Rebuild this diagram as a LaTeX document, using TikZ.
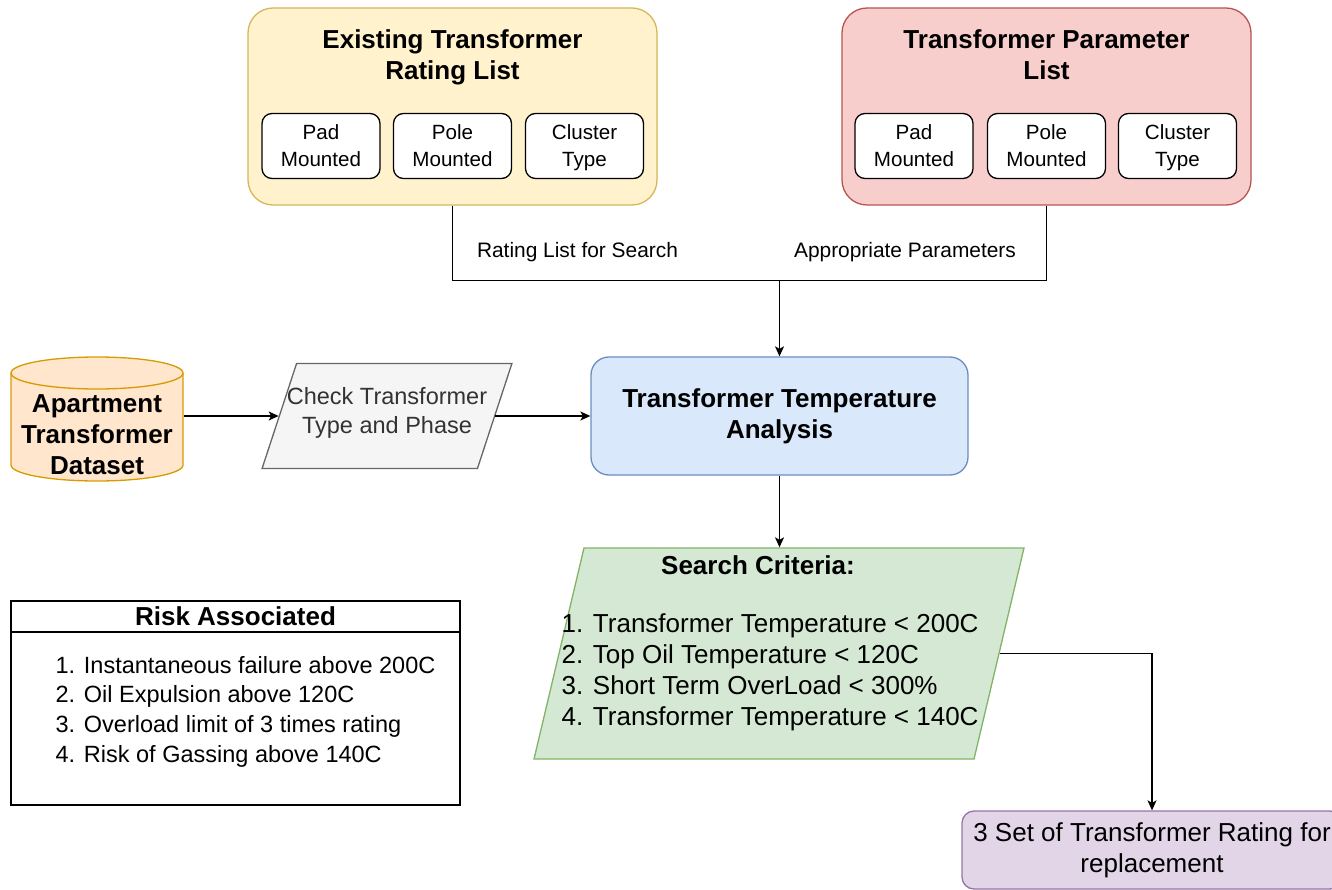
\documentclass[tikz,border=0pt]{standalone}
\usepackage{fontspec}
\setmainfont{Liberation Sans}
\usetikzlibrary{arrows.meta,shapes.geometric}

\definecolor{yfill}{HTML}{FFF2CC}\definecolor{ystroke}{HTML}{D6B656}
\definecolor{rfill}{HTML}{F8CECC}\definecolor{rstroke}{HTML}{B85450}
\definecolor{bfill}{HTML}{DAE8FC}\definecolor{bstroke}{HTML}{6C8EBF}
\definecolor{ofill}{HTML}{FFE6CC}\definecolor{ostroke}{HTML}{D79B00}
\definecolor{gfill}{HTML}{F5F5F5}\definecolor{gstroke}{HTML}{666666}\definecolor{gtext}{HTML}{333333}
\definecolor{grfill}{HTML}{D5E8D4}\definecolor{grstroke}{HTML}{82B366}
\definecolor{pfill}{HTML}{E1D5E7}\definecolor{pstroke}{HTML}{9673A6}

\newcommand\setfs[2]{\fontsize{#1pt}{#2pt}\selectfont}

\begin{document}
\begin{tikzpicture}[x=1pt,y=-1pt,line width=1.3pt,
  group/.style={rounded corners=25pt,minimum width=409pt,minimum height=197pt},
  subbox/.style={draw=black,fill=white,rounded corners=10pt,minimum width=118pt,
    minimum height=65pt,align=center,text depth=0pt,font=\setfs{20.6}{27}},
  title/.style={font=\bfseries\setfs{26}{31},align=center},
  lbl/.style={font=\setfs{20.9}{25}},
  arr/.style={-{Stealth[length=10pt,width=9pt,inset=2.5pt]}},
  para/.style={trapezium,trapezium stretches=true}]

\useasboundingbox (0,0) rectangle (1332,890);
\clip (0,0) rectangle (1332,890);

% existing rating list
\node[group,fill=yfill,draw=ystroke] (yl) at (452.5,106.5) {};
\node[title] (ylt) at (452.5,57) {Existing Transformer\\Rating List};
\node[subbox] (y1) at (321,146) {Pad\\Mounted};
\node[subbox] (y2) at (452.5,146) {Pole\\Mounted};
\node[subbox] (y3) at (584.5,146) {Cluster\\Type};

% parameter list
\node[group,fill=rfill,draw=rstroke] (rl) at (1046.5,106.5) {};
\node[title] (rlt) at (1046.5,55) {Transformer Parameter\\List};
\node[subbox] (r1) at (914,146) {Pad\\Mounted};
\node[subbox] (r2) at (1046.5,146) {Pole\\Mounted};
\node[subbox] (r3) at (1177.5,146) {Cluster\\Type};

% temperature analysis
\node[draw=bstroke,fill=bfill,rounded corners=18pt,minimum width=377pt,
  minimum height=118pt,title] (ta) at (779.5,416) {Transformer Temperature\\Analysis};

% dataset cylinder
\node[minimum width=172pt,minimum height=124pt] (ds) at (97,419) {};
\path[fill=ofill,draw=ostroke] (11,373) -- (11,465)
  arc[start angle=180,end angle=360,x radius=86pt,y radius=16pt] -- (183,373)
  arc[start angle=0,end angle=180,x radius=86pt,y radius=16pt] -- cycle;
\draw[ostroke] (11,373) arc[start angle=180,end angle=360,x radius=86pt,y radius=16pt];
\node[title] (dst) at (97,434.5) {Apartment\\Transformer\\Dataset};

% type check
\node[para,trapezium left angle=79.2,trapezium right angle=100.8,
  minimum width=250pt,minimum height=105pt,draw=gstroke,fill=gfill] (chk) at (387,416) {};
\node[text=gtext,font=\setfs{23.5}{28.2},align=center] (chkt) at (387,413) {Check Transformer\\Type and Phase};

% search criteria
\node[para,trapezium left angle=82.7,trapezium right angle=97.3,
  minimum width=490pt,minimum height=211pt,draw=grstroke,fill=grfill] (sc) at (779,653.5) {};
\node[title] (sct) at (758,565) {Search Criteria:};
\node[anchor=west,align=left,inner sep=0pt,font=\setfs{26}{31}] (sci) at (561,672.5)
  {1. Transformer Temperature < 200C\\2. Top Oil Temperature < 120C\\3. Short Term OverLoad < 300\%\\4. Transformer Temperature < 140C};

% result
\node[draw=pstroke,fill=pfill,rounded corners=12pt,minimum width=380pt,
  minimum height=78pt,align=center,font=\setfs{26}{31}] (out) at (1152,850)
  {3 Set of Transformer Rating for\\replacement};

% risk table
\node[draw=black,fill=white,outer sep=0pt,minimum width=449pt,minimum height=31pt,title] (rh) at (235.5,616.5) {Risk Associated};
\node[draw=black,fill=white,outer sep=0pt,minimum width=449pt,minimum height=173pt,anchor=north] (rb) at (rh.south) {};
\node[anchor=west,align=left,inner sep=0pt,font=\setfs{23.5}{29.7}] (ri) at (55,711.5)
  {1. Instantaneous failure above 200C\\2. Oil Expulsion above 120C\\3. Overload limit of 3 times rating\\4. Risk of Gassing above 140C};

% connectors
\coordinate (j) at (779.5,280.5);
\draw (yl.south) |- (j);
\draw (rl.south) |- (j);
\draw[arr] (j) -- (ta.north);
\node[lbl] (l1) at (577.5,252) {Rating List for Search};
\node[lbl] (l2) at (905,252) {Appropriate Parameters};

\draw[arr] (ds.east |- chk.center) -- (chk);
\draw[arr] (chk) -- (ta);
\draw[arr] (ta.south) -- (ta.south |- sc.north);
\draw[arr] (sc.right side) -| (out.north);
\end{tikzpicture}
\end{document}
